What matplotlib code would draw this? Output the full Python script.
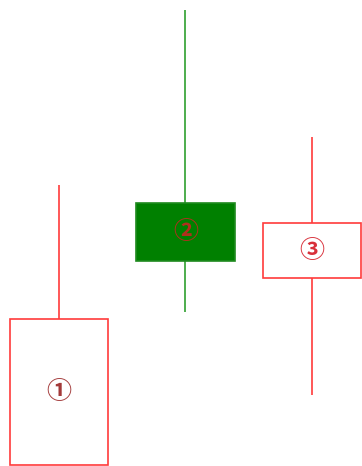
import matplotlib
matplotlib.use("Agg")
import matplotlib.pyplot as plt
from matplotlib.patches import Rectangle

# K线数据（价格单位任意）
labels = ["①", "②", "③"]
opens = [147, 263, 188]
closes = [1, 205, 243]
highs = [281, 456, 329]
lows = [1, 154, 71]
filled = [False, True, False]

fig = plt.figure(figsize=(3.62, 4.66), dpi=100)
ax = fig.add_axes([0, 0, 1, 1])
ax.set_xlim(-0.466, 2.395)
ax.set_ylim(0, 466)
ax.axis("off")

width = 0.775
text_colors = ["#a33a3a", "#b0301e", "#d8303a"]
for i in range(len(labels)):
    top = max(opens[i], closes[i])
    bot = min(opens[i], closes[i])
    if filled[i]:
        wick_c, edge_c, face_c = "#2fa02f", "#1f8a1f", "#008000"
    else:
        wick_c, edge_c, face_c = "#ff3b3b", "#ff3b3b", "white"
    # 上影线・下影线
    ax.plot([i, i], [top, highs[i]], color=wick_c, lw=1.2, solid_capstyle="butt")
    ax.plot([i, i], [lows[i], bot], color=wick_c, lw=1.2, solid_capstyle="butt")
    ax.add_patch(Rectangle((i - width / 2, bot), width, top - bot,
                           facecolor=face_c, edgecolor=edge_c, lw=1.2, zorder=3))
    ax.text(i, (top + bot) / 2, labels[i], ha="center", va="center",
            fontsize=18, fontweight="bold", color=text_colors[i], zorder=4,
            family=["Noto Sans CJK SC", "DejaVu Sans"])

fig.savefig("out.png", dpi=100)
